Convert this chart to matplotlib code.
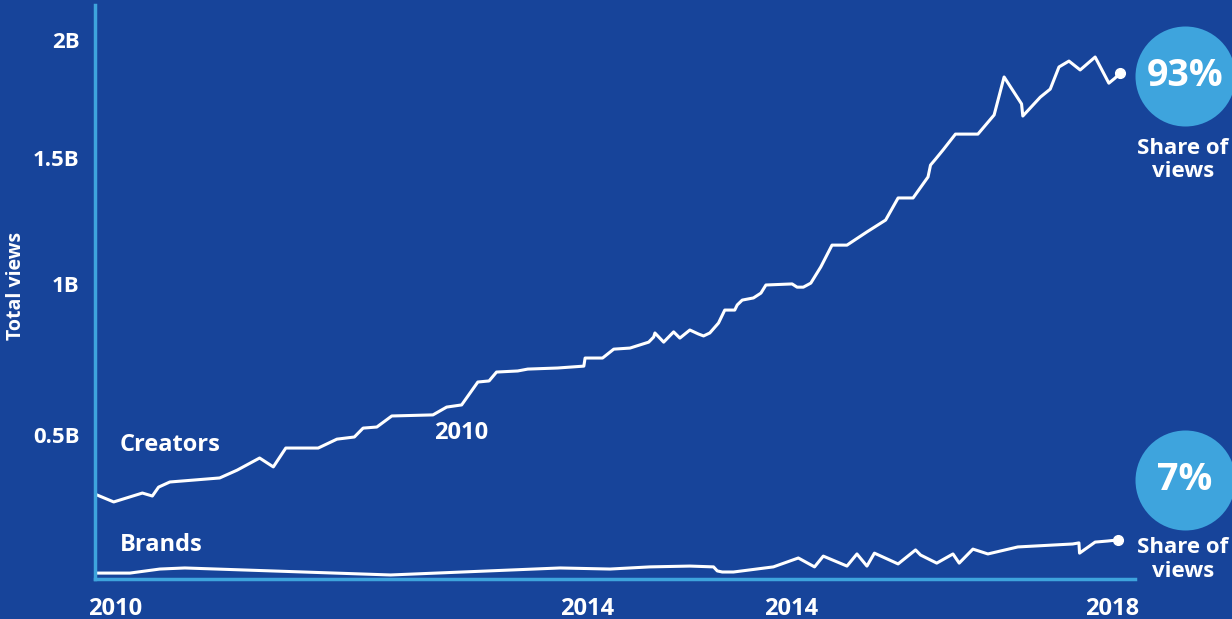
import matplotlib.pyplot as plt

# Data (years, billions of views).
creators_years = [2009.84, 2009.99, 2010.22, 2010.30, 2010.35, 2010.44, 2010.84, 2010.98,
                  2011.16, 2011.27, 2011.37, 2011.63, 2011.78, 2011.92, 2011.99, 2012.10,
                  2012.22, 2012.55, 2012.66, 2012.78, 2012.91, 2013.00, 2013.06, 2013.23,
                  2013.31, 2013.55, 2013.76, 2013.77, 2013.91, 2014.00, 2014.13, 2014.28,
                  2014.32, 2014.33, 2014.40, 2014.48, 2014.53, 2014.61, 2014.68, 2014.72,
                  2014.77, 2014.84, 2014.89, 2014.97, 2014.99, 2015.03, 2015.12, 2015.18,
                  2015.22, 2015.43, 2015.47, 2015.52, 2015.58, 2015.66, 2015.75, 2015.87,
                  2016.03, 2016.18, 2016.28, 2016.40, 2016.52, 2016.54, 2016.58, 2016.64,
                  2016.74, 2016.92, 2017.05, 2017.13, 2017.27, 2017.28, 2017.34, 2017.42,
                  2017.50, 2017.57, 2017.65, 2017.74, 2017.86, 2017.97, 2018.02, 2018.06]
creators_views = [0.315, 0.286, 0.319, 0.308, 0.341, 0.360, 0.375, 0.404,
                  0.449, 0.416, 0.486, 0.486, 0.519, 0.527, 0.560, 0.564,
                  0.605, 0.609, 0.638, 0.646, 0.731, 0.735, 0.768, 0.772,
                  0.779, 0.783, 0.790, 0.820, 0.820, 0.853, 0.857, 0.879,
                  0.898, 0.913, 0.879, 0.917, 0.894, 0.924, 0.909, 0.902,
                  0.913, 0.950, 0.998, 0.998, 1.017, 1.035, 1.043, 1.061,
                  1.091, 1.095, 1.083, 1.083, 1.098, 1.158, 1.239, 1.239,
                  1.288, 1.332, 1.414, 1.414, 1.492, 1.536, 1.558, 1.592,
                  1.651, 1.651, 1.722, 1.863, 1.763, 1.718, 1.748, 1.788,
                  1.818, 1.900, 1.922, 1.889, 1.937, 1.840, 1.859, 1.878]

brands_years = [2009.84, 2010.12, 2010.36, 2010.56, 2012.21, 2013.57, 2013.97, 2014.29,
                2014.61, 2014.80, 2014.83, 2014.87, 2014.96, 2015.28, 2015.48, 2015.61,
                2015.68, 2015.87, 2015.95, 2016.03, 2016.09, 2016.28, 2016.42, 2016.46,
                2016.59, 2016.72, 2016.77, 2016.88, 2017.00, 2017.24, 2017.68, 2017.73,
                2017.735, 2017.86, 2017.96, 2018.04]
brands_views = [0.022, 0.022, 0.037, 0.041, 0.015, 0.041, 0.037, 0.045,
                0.048, 0.045, 0.030, 0.026, 0.026, 0.045, 0.078, 0.045,
                0.085, 0.048, 0.093, 0.048, 0.096, 0.056, 0.108, 0.089,
                0.059, 0.093, 0.059, 0.111, 0.093, 0.119, 0.130, 0.134,
                0.096, 0.137, 0.141, 0.145]

shares = ['93%', '7%']

ytick_pos = [0.534, 1.095, 1.562, 2.0]
ytick_labels = ['0.5B', '1B', '1.5B', '2B']
xtick_pos = [2010.0, 2013.79, 2015.42, 2018.0]
xtick_labels = ['2010', '2014', '2014', '2018']

bg = '#17449a'
light = '#3ea4dd'
white = 'white'

plt.rcParams['font.family'] = ['Open Sans', 'DejaVu Sans']
plt.rcParams['font.weight'] = 'bold'

fig = plt.figure(figsize=(12.32, 6.19), dpi=100, facecolor=bg)
ax = fig.add_axes([0.0771, 0.0646, 0.8442, 0.9273], facecolor=bg)

ax.plot(creators_years, creators_views, color=white, lw=2.2, solid_joinstyle='round')
ax.plot(creators_years[-1], creators_views[-1], 'o', color=white, ms=7)
ax.plot(brands_years, brands_views, color=white, lw=2.2, solid_joinstyle='round')
ax.plot(brands_years[-1], brands_views[-1], 'o', color=white, ms=7)

ax.set_xlim(2009.84, 2018.18)
ax.set_ylim(0, 2.13)

for s in ['top', 'right']:
    ax.spines[s].set_visible(False)
for s in ['left', 'bottom']:
    ax.spines[s].set_color(light)
    ax.spines[s].set_linewidth(2.5)

ax.set_yticks(ytick_pos)
ax.set_yticklabels(ytick_labels)
ax.set_xticks(xtick_pos)
ax.set_xticklabels(xtick_labels)
ax.tick_params(axis='y', length=0, pad=11, labelsize=16, labelcolor=white)
ax.tick_params(axis='x', length=0, pad=13, labelsize=17, labelcolor=white)
ax.set_ylabel('Total views', color=white, fontsize=14, fontweight='bold')
ax.yaxis.set_label_coords(-0.066, 0.51)

ax.text(0.024, 0.233, 'Creators', transform=ax.transAxes, color=white, fontsize=17,
        va='center', ha='left')
ax.text(0.024, 0.059, 'Brands', transform=ax.transAxes, color=white, fontsize=17,
        va='center', ha='left')
ax.text(0.326, 0.254, '2010', transform=ax.transAxes, color=white, fontsize=17,
        va='center', ha='left')

# share circles on the right
for yc, ys, label in [(0.876, 0.730, shares[0]), (0.172, 0.034, shares[1])]:
    ax.scatter([1.048], [yc], s=72 ** 2, color=light, transform=ax.transAxes,
               clip_on=False, zorder=3, linewidths=0)
    ax.text(1.048, yc, label, transform=ax.transAxes, color=white, fontsize=27,
            ha='center', va='center', zorder=4)
    ax.text(1.046, ys, 'Share of\nviews', transform=ax.transAxes, color=white,
            fontsize=16, ha='center', va='center', linespacing=1.15, zorder=4)

fig.savefig('out.png', dpi=100, facecolor=bg)
